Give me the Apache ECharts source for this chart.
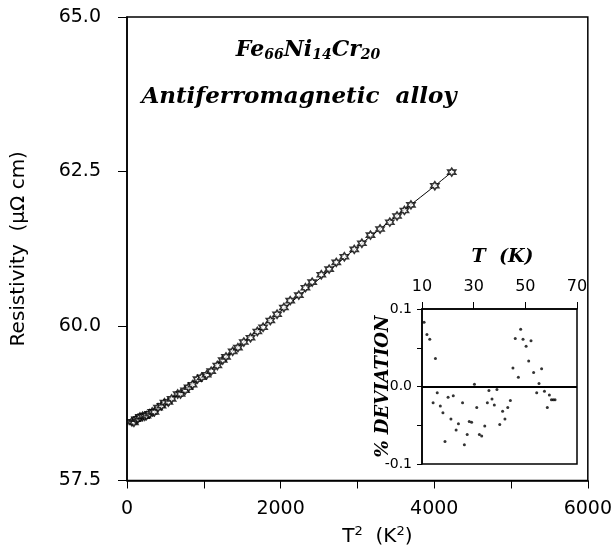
<!DOCTYPE html>
<html><head><meta charset="utf-8">
<script src="https://cdn.jsdelivr.net/npm/echarts@6/dist/echarts.min.js"></script>
<style>html,body{margin:0;padding:0;background:#fff}#c{width:615px;height:552px}</style>
</head><body><div id="c"></div>
<script>
// Main panel: resistivity vs T^2
const mainT2 = [64,90,117,142,169,204,231,253,292,328,357,404,449,488,538,581,660,697,756,801,853,918,973,1037,1096,1176,1246,1289,1376,1444,1521,1608,1697,1772,1866,1954,2043,2125,2237,2323,2411,2530,2632,2725,2830,2959,3058,3170,3295,3422,3516,3612,3697,4008,4228];
const mainRho = [58.45,58.44,58.49,58.50,58.53,58.54,58.54,58.55,58.58,58.61,58.61,58.68,58.71,58.76,58.77,58.82,58.90,58.90,58.96,59.01,59.05,59.14,59.17,59.21,59.27,59.36,59.45,59.50,59.59,59.65,59.74,59.81,59.91,59.98,60.09,60.19,60.30,60.41,60.50,60.62,60.71,60.83,60.92,61.03,61.12,61.24,61.34,61.47,61.57,61.68,61.78,61.87,61.96,62.27,62.49];
const fitT2 = [50,500,1000,1500,2000,2500,3000,3500,4000,4228];
const fitRho = [58.41,58.77,59.20,59.72,60.24,60.76,61.28,61.77,62.26,62.49];
// Inset: % deviation vs T
const devT = [10.8,11.9,13.0,15.2,15.9,14.3,17.1,18.1,20.1,22.1,21.2,24.1,23.2,18.9,25.7,27.5,26.4,28.3,29.2,31.2,30.3,32.2,33.1,34.3,35.3,35.9,37.1,38.0,39.0,40.1,41.2,42.1,43.2,44.2,45.2,46.1,47.3,48.2,49.1,50.3,51.3,52.2,53.2,54.4,55.3,56.3,57.4,58.5,59.3,60.1,60.8,61.5];
const devPct = [0.083,0.067,0.061,0.036,-0.008,-0.021,-0.025,-0.034,-0.014,-0.012,-0.042,-0.048,-0.056,-0.071,-0.021,-0.062,-0.075,-0.045,-0.046,-0.027,0.003,-0.062,-0.064,-0.051,-0.021,-0.005,-0.016,-0.024,-0.004,-0.049,-0.032,-0.042,-0.027,-0.018,0.024,0.062,0.012,0.074,0.061,0.052,0.033,0.059,0.018,-0.008,0.004,0.023,-0.006,-0.027,-0.011,-0.017,-0.017,-0.017];
const mainYTicks = [57.5, 60.0, 62.5, 65.0];
const mainXLabels = [0, 2000, 4000, 6000];
const insetXLabels = [10, 30, 50, 70];

const hexagram = 'path://M0,-10 L2.9,-5 L8.66,-5 L5.8,0 L8.66,5 L2.9,5 L0,10 L-2.9,5 L-8.66,5 L-5.8,0 L-8.66,-5 L-2.9,-5 Z';
const sans = 'DejaVu Sans';
const serif = 'DejaVu Serif';

const chart = echarts.init(document.getElementById('c'), null, {renderer: 'canvas'});
chart.setOption({
  animation: false,
  backgroundColor: '#fff',
  title: [{
    text: 'Fe{s|66}Ni{s|14}Cr{s|20}',
    left: 303, top: 33, textAlign: 'center',
    textStyle: {fontFamily: serif, fontStyle: 'italic', fontWeight: 'bold', fontSize: 22, color: '#000',
      rich: {s: {fontFamily: serif, fontStyle: 'italic', fontWeight: 'bold', fontSize: 14, color: '#000', padding: [10, 0, 0, 0]}}}
  }, {
    text: 'Antiferromagnetic  alloy',
    left: 294, top: 81, textAlign: 'center',
    textStyle: {fontFamily: serif, fontStyle: 'italic', fontWeight: 'bold', fontSize: 23, color: '#000'}
  }],
  grid: [
    {left: 127, top: 17, width: 462, height: 467, show: true, borderColor: '#000', borderWidth: 1.5, backgroundColor: 'transparent'},
    {left: 422, top: 309, width: 155, height: 155, show: true, borderColor: '#000', borderWidth: 1.5, backgroundColor: '#fff'}
  ],
  xAxis: [{
    gridIndex: 0, type: 'value', min: 0, max: 6000, interval: 1000,
    axisLine: {onZero: false, lineStyle: {color: '#000', width: 1.5}},
    axisTick: {length: 8, lineStyle: {color: '#000', width: 1}},
    splitLine: {show: false},
    axisLabel: {color: '#000', fontFamily: sans, fontSize: 19, margin: 19,
      formatter: v => mainXLabels.indexOf(v) >= 0 ? String(v) : ''},
    name: 'T{p|2}  (K{p|2})', nameLocation: 'middle', nameGap: 45, nameMoveOverlap: false,
    nameTextStyle: {color: '#000', fontFamily: sans, fontSize: 20, padding: [0, 0, 0, 40],
      rich: {p: {fontFamily: sans, fontSize: 13, color: '#000', padding: [0, 0, 10, 0]}}}
  }, {
    gridIndex: 1, type: 'value', position: 'top', min: 10, max: 70, interval: 20,
    axisLine: {onZero: false, lineStyle: {color: '#000', width: 1.5}},
    axisTick: {length: 7, lineStyle: {color: '#000', width: 1}},
    splitLine: {show: false},
    axisLabel: {color: '#000', fontFamily: sans, fontSize: 16, margin: 14,
      formatter: v => insetXLabels.indexOf(v) >= 0 ? String(v) : ''},
    name: 'T  (K)', nameLocation: 'middle', nameGap: 42, nameMoveOverlap: false,
    nameTextStyle: {color: '#000', fontFamily: serif, fontStyle: 'italic', fontWeight: 'bold', fontSize: 19, padding: [0, 0, 0, 6]}
  }],
  yAxis: [{
    gridIndex: 0, type: 'value', min: 57.5, max: 65.0, interval: 2.5,
    axisLine: {onZero: false, lineStyle: {color: '#000', width: 1.5}},
    axisTick: {length: 9, lineStyle: {color: '#000', width: 1}},
    splitLine: {show: false},
    axisLabel: {color: '#000', fontFamily: sans, fontSize: 19, margin: 26,
      formatter: v => mainYTicks.some(t => Math.abs(t - v) < 1e-6) ? v.toFixed(1) : ''},
    name: 'Resistivity  (μΩ cm)', nameLocation: 'middle', nameRotate: 90, nameGap: 98, nameMoveOverlap: false,
    nameTextStyle: {color: '#000', fontFamily: sans, fontSize: 20}
  }, {
    gridIndex: 1, type: 'value', min: -0.1, max: 0.1, interval: 0.05,
    axisLine: {onZero: false, lineStyle: {color: '#000', width: 1.5}},
    axisTick: {length: 5, lineStyle: {color: '#000', width: 1}},
    splitLine: {show: false},
    axisLabel: {color: '#000', fontFamily: sans, fontSize: 14, margin: 10,
      formatter: v => Math.abs(v) < 1e-9 ? '0.0' : (Math.abs(Math.abs(v) - 0.1) < 1e-9 ? v.toFixed(1) : '')},
    name: '% DEVIATION', nameLocation: 'middle', nameRotate: 90, nameGap: 30, nameMoveOverlap: false,
    nameTextStyle: {color: '#000', fontFamily: serif, fontStyle: 'italic', fontWeight: 'bold', fontSize: 18}
  }],
  series: [{
    type: 'line', xAxisIndex: 0, yAxisIndex: 0,
    data: fitT2.map((x, i) => [x, fitRho[i]]),
    showSymbol: false, smooth: 0.2,
    lineStyle: {color: '#000', width: 1}, silent: true, z: 2
  }, {
    type: 'scatter', xAxisIndex: 0, yAxisIndex: 0,
    data: mainT2.map((x, i) => [x, mainRho[i]]),
    symbol: hexagram, symbolSize: 8,
    itemStyle: {color: '#fff', borderColor: '#000', borderWidth: 1.6}, z: 3
  }, {
    type: 'scatter', xAxisIndex: 1, yAxisIndex: 1,
    data: devT.map((x, i) => [x, devPct[i]]),
    symbol: 'circle', symbolSize: 3,
    itemStyle: {color: '#000'}, z: 5,
    markLine: {silent: true, symbol: 'none', label: {show: false},
      lineStyle: {color: '#000', width: 2, type: 'solid'},
      data: [{yAxis: 0}]}
  }]
});
</script></body></html>
